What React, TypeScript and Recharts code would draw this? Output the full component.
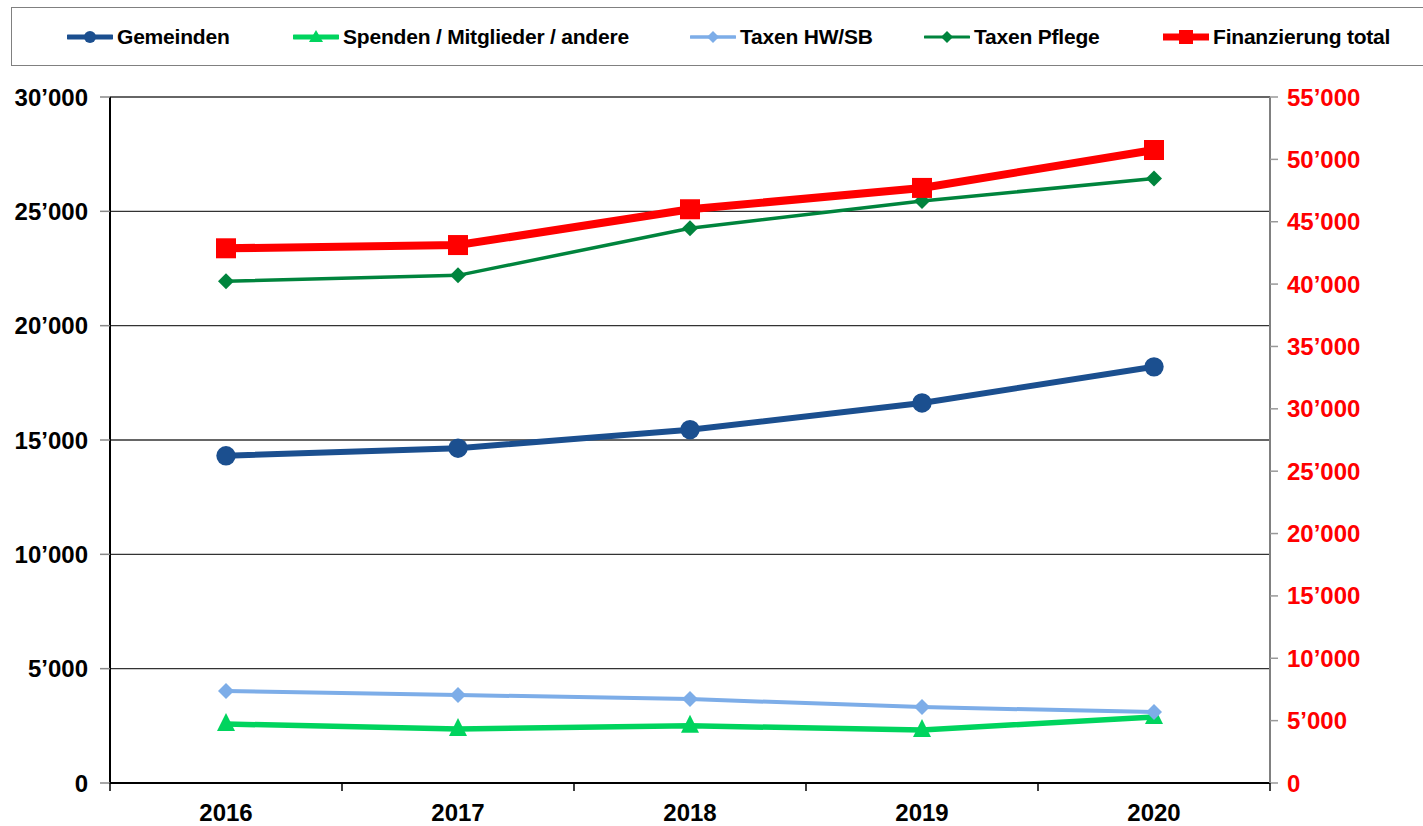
import React from 'react';
import { LineChart, Line, XAxis, YAxis, CartesianGrid } from 'recharts';

const categories = ['2016', '2017', '2018', '2019', '2020'];
const gemeinden = [14310, 14640, 15450, 16620, 18200];
const spenden = [2580, 2360, 2500, 2320, 2890];
const taxenHW = [4020, 3850, 3670, 3320, 3100];
const taxenPflege = [21940, 22200, 24260, 25450, 26440];
const total = [42870, 43130, 46000, 47710, 50750];
const leftTicks = [0, 5000, 10000, 15000, 20000, 25000, 30000];
const rightTicks = [0, 5000, 10000, 15000, 20000, 25000, 30000, 35000, 40000, 45000, 50000, 55000];

const data = categories.map((year, i) => ({
  year,
  gemeinden: gemeinden[i],
  spenden: spenden[i],
  taxenHW: taxenHW[i],
  taxenPflege: taxenPflege[i],
  total: total[i],
}));

const FONT = '"Liberation Sans", Arial, sans-serif';
const C_GEM = '#1B4F8F';
const C_SPE = '#00D45E';
const C_HW = '#7DADE8';
const C_PFL = '#00843D';
const C_TOT = '#FF0000';

const fmt = (v: number) => {
  const s = String(Math.round(v));
  return s.replace(/\B(?=(\d{3})+(?!\d))/g, '\u2019');
};

const HALF_BAND = 116;

const XTick = (props: any) => {
  const { x, y, payload, index } = props;
  return (
    <g>
      {index === 0 && <line x1={x - HALF_BAND} x2={x - HALF_BAND} y1={y} y2={y + 8} stroke="#000" strokeWidth={1.5} />}
      <line x1={x + HALF_BAND} x2={x + HALF_BAND} y1={y} y2={y + 8} stroke="#000" strokeWidth={1.5} />
      <text x={x} y={y + 38} textAnchor="middle" fontFamily={FONT} fontWeight="bold" fontSize={24} fill="#000">
        {payload.value}
      </text>
    </g>
  );
};

const circleDot = (p: any) => <circle key={`c${p.index}`} cx={p.cx} cy={p.cy} r={9.7} fill={C_GEM} />;
const triDot = (p: any) => (
  <path key={`t${p.index}`} d={`M${p.cx},${p.cy - 11} L${p.cx + 9},${p.cy + 7} L${p.cx - 9},${p.cy + 7} Z`} fill={C_SPE} />
);
const diamondDot = (color: string, s: number) => (p: any) => (
  <path key={`d${p.index}`} d={`M${p.cx},${p.cy - s} L${p.cx + s},${p.cy} L${p.cx},${p.cy + s} L${p.cx - s},${p.cy} Z`} fill={color} />
);
const squareDot = (p: any) => <rect key={`s${p.index}`} x={p.cx - 10} y={p.cy - 10} width={20} height={20} fill={C_TOT} />;

const legendItems = [
  { label: 'Gemeinden', color: C_GEM, w: 5, marker: 'circle', left: 67 },
  { label: 'Spenden / Mitglieder / andere', color: C_SPE, w: 5, marker: 'triangle', left: 293 },
  { label: 'Taxen HW/SB', color: C_HW, w: 3.5, marker: 'diamond', left: 690 },
  { label: 'Taxen Pflege', color: C_PFL, w: 3, marker: 'diamond', left: 924 },
  { label: 'Finanzierung total', color: C_TOT, w: 7, marker: 'square', left: 1163 },
];

const LegendIcon = ({ color, w, marker }: any) => (
  <svg width={46} height={20} style={{ display: 'block' }}>
    <line x1={1} x2={45} y1={10} y2={10} stroke={color} strokeWidth={w} strokeLinecap="round" />
    {marker === 'circle' && <circle cx={23} cy={10} r={6} fill={color} />}
    {marker === 'triangle' && <path d="M23,3 L30,15 L16,15 Z" fill={color} />}
    {marker === 'diamond' && <path d="M23,4 L29,10 L23,16 L17,10 Z" fill={color} />}
    {marker === 'square' && <rect x={16} y={3} width={14} height={14} fill={color} />}
  </svg>
);

export default function App() {
  return (
    <div style={{ position: 'absolute', left: 0, top: 0, width: 1423, height: 826, overflow: 'hidden', background: '#fff' }}>
      <div
        style={{
          position: 'absolute',
          left: 11,
          top: 7,
          width: 1430,
          height: 59,
          border: '1.5px solid #808080',
          boxSizing: 'border-box',
        }}
      />
      {legendItems.map((it) => (
        <div
          key={it.label}
          style={{ position: 'absolute', left: it.left, top: 27, height: 20, display: 'flex', alignItems: 'center' }}
        >
          <LegendIcon {...it} />
          <span
            style={{
              marginLeft: 4,
              fontFamily: FONT,
              fontWeight: 'bold',
              fontSize: 21,
              letterSpacing: -0.2,
              color: '#000',
              whiteSpace: 'nowrap',
              lineHeight: '20px',
            }}
          >
            {it.label}
          </span>
        </div>
      ))}
      <div style={{ position: 'absolute', left: 0, top: 0 }}>
        <LineChart width={1423} height={826} data={data} margin={{ top: 97, right: 23, bottom: 3, left: 10 }}>
          <CartesianGrid yAxisId="left" vertical={false} stroke="#333" strokeWidth={1.3} />
          <XAxis
            dataKey="year"
            padding={{ left: HALF_BAND, right: HALF_BAND }}
            axisLine={{ stroke: '#000', strokeWidth: 2 }}
            tickLine={false}
            tickSize={0}
            tickMargin={0}
            height={40}
            interval={0}
            tick={<XTick />}
          />
          <YAxis
            yAxisId="left"
            domain={[0, 30000]}
            ticks={leftTicks}
            width={100}
            axisLine={{ stroke: '#000', strokeWidth: 2 }}
            tickLine={{ stroke: '#888', strokeWidth: 1.5 }}
            tickSize={10}
            tickMargin={12}
            tickFormatter={fmt}
            tick={{ fill: '#000', fontSize: 24, fontWeight: 'bold', fontFamily: FONT }}
            interval={0}
          />
          <YAxis
            yAxisId="right"
            orientation="right"
            domain={[0, 55000]}
            ticks={rightTicks}
            width={130}
            axisLine={{ stroke: '#808080', strokeWidth: 2 }}
            tickLine={{ stroke: '#999', strokeWidth: 1.5 }}
            tickSize={8}
            tickMargin={9}
            tickFormatter={fmt}
            tick={{ fill: '#FF0000', fontSize: 24, fontWeight: 'bold', fontFamily: FONT }}
            interval={0}
          />
          <Line yAxisId="left" dataKey="gemeinden" stroke={C_GEM} strokeWidth={6} dot={circleDot} isAnimationActive={false} />
          <Line yAxisId="left" dataKey="spenden" stroke={C_SPE} strokeWidth={5.5} dot={triDot} isAnimationActive={false} />
          <Line yAxisId="left" dataKey="taxenHW" stroke={C_HW} strokeWidth={4} dot={diamondDot(C_HW, 8)} isAnimationActive={false} />
          <Line yAxisId="left" dataKey="taxenPflege" stroke={C_PFL} strokeWidth={3.5} dot={diamondDot(C_PFL, 8)} isAnimationActive={false} />
          <Line yAxisId="right" dataKey="total" stroke={C_TOT} strokeWidth={8} dot={squareDot} isAnimationActive={false} />
        </LineChart>
      </div>
    </div>
  );
}
